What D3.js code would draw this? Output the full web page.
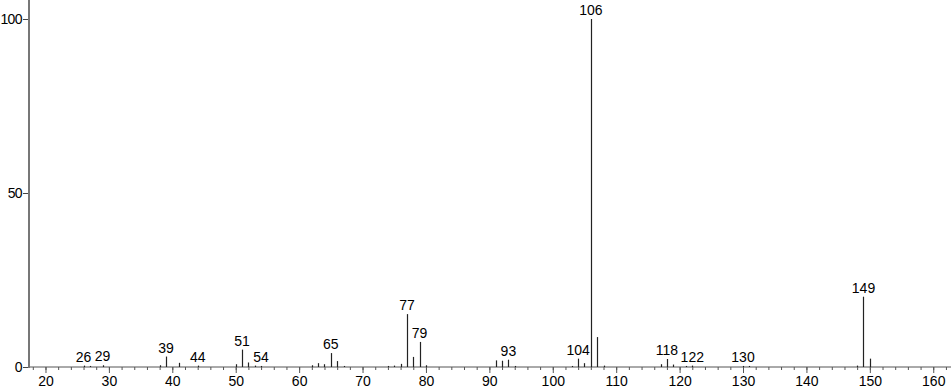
<!DOCTYPE html>
<html>
<head>
<meta charset="utf-8">
<script src="https://cdn.jsdelivr.net/npm/d3@7/dist/d3.min.js"></script>
<style>
  body { margin: 0; background: #fff; }
  svg text { font-family: "Liberation Sans", Arial, sans-serif; font-size: 14px; fill: #000; }
</style>
</head>
<body>
<div class="chart"></div>
<script>
// m/z values and relative intensities
var masses = [26, 27, 29, 38, 39, 41, 44, 50, 51, 52, 53, 54, 62, 63, 64, 65, 66, 67,
              74, 75, 76, 77, 78, 79, 80, 91, 92, 93, 94, 103, 104, 105, 106, 107, 108,
              117, 118, 119, 121, 122, 130, 131, 148, 149, 150];
var intensities = [0.4, 0.3, 0.5, 0.5, 3.0, 1.2, 0.4, 0.8, 5.0, 1.3, 0.4, 0.3, 0.5, 1.1, 0.8, 4.0, 1.7, 0.3,
                   0.3, 0.4, 0.9, 15.2, 2.9, 7.2, 0.5, 1.9, 1.8, 2.1, 0.3, 0.3, 2.4, 1.1, 100, 8.6, 0.4,
                   0.8, 2.3, 0.7, 0.3, 0.4, 0.3, 0.3, 0.4, 20.2, 2.4];
var labelled = [26, 29, 39, 44, 51, 54, 65, 77, 79, 93, 104, 106, 118, 122, 130, 149];

var xTicks = d3.range(20, 161, 10);
var xMinor = d3.range(18, 163, 2);
var yTicks = [0, 50, 100];

var width = 951, height = 389;
var x0 = 29, y0 = 367;

var peaks = masses.map(function (m, i) { return {mz: m, ab: intensities[i]}; });

var xScale = d3.scaleLinear()
    .domain([17.4, 162.8])
    .range([x0, width]);

var yScale = d3.scaleLinear()
    .domain([0, 100])
    .range([y0, 19]);

var svg = d3.select(".chart")
    .append("svg")
    .attr("width", width)
    .attr("height", height);

// petites graduations
svg.append("g")
    .attr("transform", "translate(0," + y0 + ")")
    .call(d3.axisBottom(xScale).tickValues(xMinor).tickSize(3).tickFormat(""))
    .call(function (g) {
        g.select(".domain").remove();
        g.selectAll("line").attr("stroke", "#555");
    });

// axe X
svg.append("g")
    .attr("transform", "translate(0," + y0 + ")")
    .call(d3.axisBottom(xScale).tickValues(xTicks).tickSize(6).tickPadding(3).tickFormat(d3.format("d")))
    .call(function (g) {
        g.select(".domain").remove();
        g.selectAll("line").attr("stroke", "#555");
        g.selectAll("text").attr("font-size", null).attr("font-family", null);
    });

svg.append("line")
    .attr("x1", x0).attr("x2", width)
    .attr("y1", y0).attr("y2", y0)
    .attr("stroke", "#555")
    .attr("stroke-width", 1);

// axe Y
svg.append("g")
    .attr("transform", "translate(" + x0 + ",0)")
    .call(d3.axisLeft(yScale).tickValues(yTicks).tickSize(6).tickPadding(1))
    .call(function (g) {
        g.select(".domain").remove();
        g.selectAll("line").attr("stroke", "#444");
        g.selectAll("text").attr("font-size", null).attr("font-family", null)
            .style("letter-spacing", "-0.6px");
    });

svg.append("line")
    .attr("x1", x0).attr("x2", x0)
    .attr("y1", 0).attr("y2", y0 + 1)
    .attr("stroke", "#777")
    .attr("stroke-width", 2);

// pics
svg.append("g")
    .selectAll("line")
    .data(peaks)
    .enter().append("line")
    .attr("x1", function (d) { return Math.round(xScale(d.mz)) + 0.5; })
    .attr("x2", function (d) { return Math.round(xScale(d.mz)) + 0.5; })
    .attr("y1", y0)
    .attr("y2", function (d) { return yScale(d.ab); })
    .attr("stroke", "#222")
    .attr("stroke-width", 1.2);

// etiquettes
svg.append("g")
    .selectAll("text")
    .data(peaks.filter(function (d) { return labelled.indexOf(d.mz) >= 0; }))
    .enter().append("text")
    .attr("x", function (d) { return xScale(d.mz); })
    .attr("y", function (d) { return yScale(d.ab) - 4; })
    .attr("text-anchor", "middle")
    .text(function (d) { return d.mz; });
</script>
</body>
</html>
